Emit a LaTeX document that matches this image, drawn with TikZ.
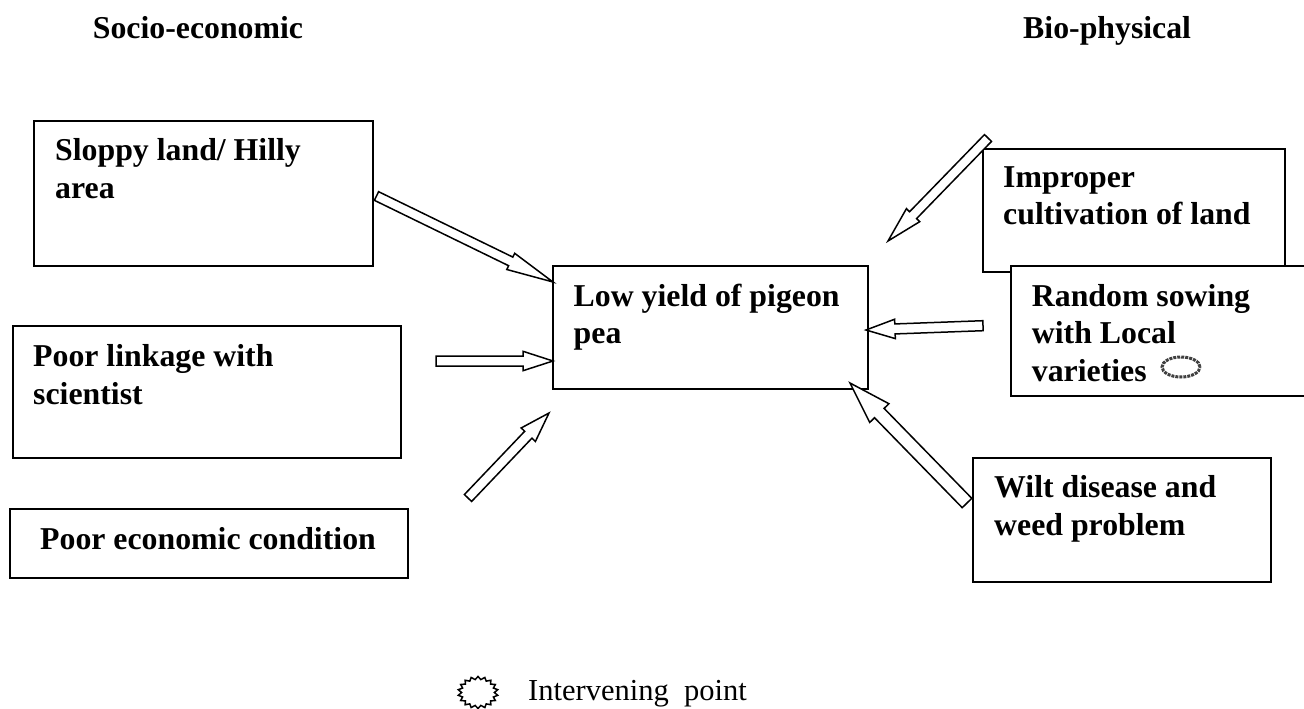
\documentclass[tikz,border=0pt]{standalone}
\usepackage{fontspec}
\setmainfont{Liberation Serif}
\usetikzlibrary{calc,shapes.geometric}
\tikzset{
  boxnode/.style={draw=black,line width=1.6pt,inner sep=0},
  blabel/.style={font=\fontsize{31.8}{37.4}\selectfont\bfseries,anchor=north west,align=left,inner sep=0},
  headlabel/.style={font=\fontsize{31.8}{40}\selectfont\bfseries,anchor=base west,inner sep=0},
  blockline/.style={draw=black,line width=1.5pt,fill=white,line join=miter,miter limit=6}
}
% tail, tip, shaft half width, head half width, head length
\newcommand{\blockarrow}[5]{%
  \coordinate (hb) at ($(#2)!#5pt!(#1)$);
  \draw[blockline]
    ($(#1)!#3pt!90:(#2)$) -- ($(hb)!#3pt!90:(#2)$) -- ($(hb)!#4pt!90:(#2)$) -- (#2)
    -- ($(hb)!#4pt!-90:(#2)$) -- ($(hb)!#3pt!-90:(#2)$) -- ($(#1)!#3pt!-90:(#2)$) -- cycle;
}
\begin{document}
\begin{tikzpicture}[x=1pt,y=-1pt]
\useasboundingbox (0,0) rectangle (1304,709);
\node[headlabel] (h1) at (92.7,38.5) {Socio-economic};
\node[headlabel] (h2) at (1023,38.5) {Bio-physical};
% boxes
\draw[boxnode] (34,121) rectangle (373,266);
\node[blabel] (t1) at (55,138.5) {Sloppy land/ Hilly\\area};
\draw[boxnode] (13,326) rectangle (401,458);
\node[blabel] (t2) at (33,344.5) {Poor linkage with\\scientist};
\draw[boxnode] (10,509) rectangle (408,578);
\node[blabel] (t3) at (40,527.5) {Poor economic condition};
\draw[boxnode] (553,266) rectangle (868,389);
\node[blabel] (t4) at (573.5,284) {Low yield of pigeon\\pea};
\draw[boxnode] (983,149) rectangle (1285,272);
\node[blabel] (t5) at (1003,166.5) {Improper\\cultivation of land};
\draw[boxnode,fill=white] (1011,266) rectangle (1310,396);
\node[blabel] (t6) at (1031.7,284) {Random sowing\\with Local\\varieties};
\draw[boxnode] (973,458) rectangle (1271,582);
\node[blabel] (t7) at (994,475.5) {Wilt disease and\\weed problem};
% coordinates
\coordinate (a1) at (376.5,196); \coordinate (b1) at (553,282);
\coordinate (a2) at (436,361);   \coordinate (b2) at (553,361);
\coordinate (a3) at (468,498);   \coordinate (b3) at (549,413);
\coordinate (a4) at (988,138);   \coordinate (b4) at (888,241);
\coordinate (a5) at (983,325.7); \coordinate (b5) at (866,330);
\coordinate (a6) at (967,503);   \coordinate (b6) at (850,383);
\blockarrow{a1}{b1}{4.8}{9}{47}
\blockarrow{a2}{b2}{5}{9.7}{30}
\blockarrow{a3}{b3}{5}{9.8}{30}
\blockarrow{a4}{b4}{4.9}{9.3}{36}
\blockarrow{a5}{b5}{5}{9.7}{29}
\blockarrow{a6}{b6}{6.7}{13.4}{42}
% marks
\node[draw=black!75,line width=3pt,densely dotted,ellipse,minimum width=38pt,minimum height=20pt,inner sep=0] (ring) at (1181,367) {};
\node[draw=black,line width=1.5pt,star,star points=18,star point ratio=1.22,minimum size=32pt,inner sep=0,xscale=1.25,transform shape] (burst) at (478,692.5) {};
\node[font=\fontsize{30.5}{36}\selectfont,anchor=base west,inner sep=0] (legend) at (528,700) {Intervening\ \ point};
\end{tikzpicture}
\end{document}
